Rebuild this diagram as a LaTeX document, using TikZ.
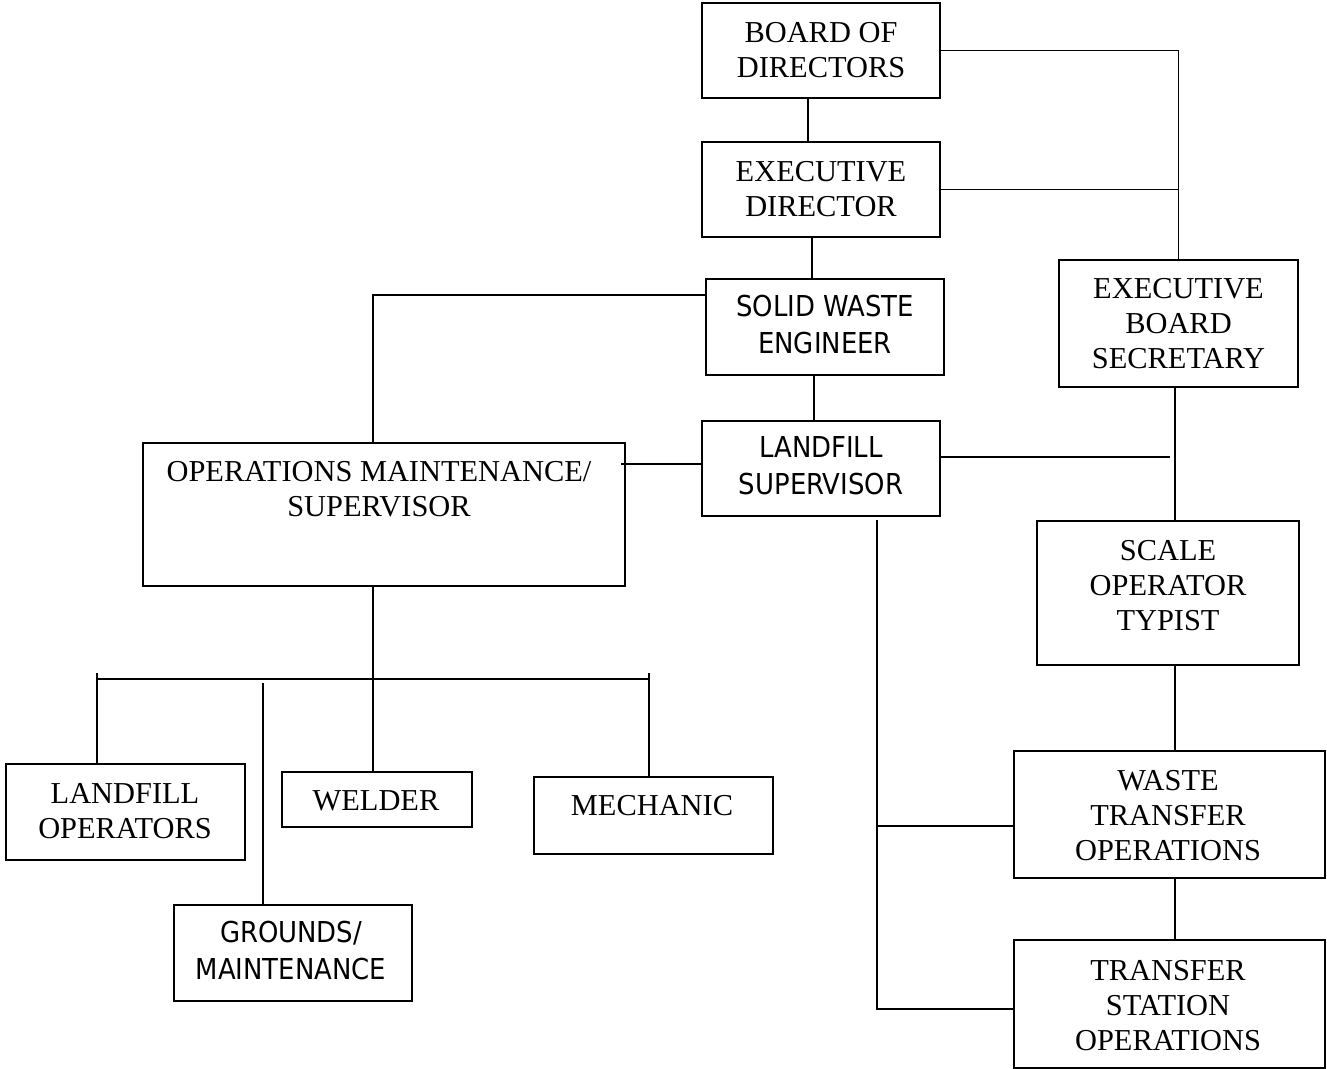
\documentclass[tikz,border=0pt]{standalone}
\usepackage{fontspec}
\setmainfont{Liberation Serif}
\newfontfamily\condsans{DejaVu Sans Condensed}
\begin{document}
\begin{tikzpicture}[x=0.75pt,y=-0.75pt,
  box/.style={draw,line width=1.4pt,inner sep=0pt,rectangle},
  serift/.style={align=center,inner sep=0pt,font=\fontsize{22.8}{26.25}\selectfont},
  sanst/.style={align=center,inner sep=0pt,font=\condsans\fontsize{21.6}{27.75}\selectfont},
  conn/.style={line width=1.4pt}]
\useasboundingbox[fill=white] (0,0) rectangle (1327,1069);

% boxes
\node[box,minimum width=238*0.75pt,minimum height=95*0.75pt] (board) at (821,50.5) {};
\node[box,minimum width=238*0.75pt,minimum height=95*0.75pt] (exec) at (821,189.5) {};
\node[box,minimum width=238*0.75pt,minimum height=96*0.75pt] (swe) at (825,327) {};
\node[box,minimum width=238*0.75pt,minimum height=95*0.75pt] (ls) at (821,468.5) {};
\node[box,minimum width=239*0.75pt,minimum height=127*0.75pt] (sec) at (1178.5,323.5) {};
\node[box,minimum width=482*0.75pt,minimum height=143*0.75pt] (ops) at (384,514.5) {};
\node[box,minimum width=262*0.75pt,minimum height=144*0.75pt] (scale) at (1168,593) {};
\node[box,minimum width=311*0.75pt,minimum height=127*0.75pt] (wto) at (1169.5,814.5) {};
\node[box,minimum width=311*0.75pt,minimum height=128*0.75pt] (tso) at (1169.5,1004) {};
\node[box,minimum width=239*0.75pt,minimum height=96*0.75pt] (lo) at (125.5,812) {};
\node[box,minimum width=190*0.75pt,minimum height=55*0.75pt] (weld) at (377,799.5) {};
\node[box,minimum width=239*0.75pt,minimum height=77*0.75pt] (mech) at (653.5,815.5) {};
\node[box,minimum width=238*0.75pt,minimum height=96*0.75pt] (gr) at (293,953) {};

% texts
\node[serift] (boardT) at (821,50.5) {BOARD OF\\DIRECTORS};
\node[serift] (execT) at (821,189) {EXECUTIVE\\DIRECTOR};
\node[sanst] (sweT) at (825,325) {SOLID WASTE\\ENGINEER};
\node[sanst] (lsT) at (821,466) {LANDFILL\\SUPERVISOR};
\node[serift] (secT) at (1178.5,323.5) {EXECUTIVE\\BOARD\\SECRETARY};
\node[serift] (opsT) at (379,489.5) {OPERATIONS MAINTENANCE/\\SUPERVISOR};
\node[serift] (scaleT) at (1168,586) {SCALE\\OPERATOR\\TYPIST};
\node[serift] (wtoT) at (1168,816) {WASTE\\TRANSFER\\OPERATIONS};
\node[serift] (tsoT) at (1168,1006) {TRANSFER\\STATION\\OPERATIONS};
\node[serift] (loT) at (125,811.5) {LANDFILL\\OPERATORS};
\node[serift] (weldT) at (376,801) {WELDER};
\node[serift] (mechT) at (652,806) {MECHANIC};
\node[sanst] (grT) at (291,951) {GROUNDS/\\MAINTENANCE};

% helper coordinates
\coordinate (bx) at (808,0);
\coordinate (ex) at (812,0);
\coordinate (sx) at (814,0);
\coordinate (rx) at (1175,0);
\coordinate (swl) at (373,295);
\coordinate (lsl) at (621,464);
\coordinate (lsr) at (1170,457);
\coordinate (lm) at (877,826);
\coordinate (lb) at (877,1009);
\coordinate (lt) at (877,520);
\coordinate (bar) at (373,679);
\coordinate (barL) at (97,679);
\coordinate (barR) at (649,679);
\coordinate (barLt) at (97,673);
\coordinate (barRt) at (649,673);
\coordinate (gx) at (263,683);

% connectors
\draw[conn] (board.south -| bx) -- (exec.north -| bx);
\draw[conn] (board.east) -| (sec.north);
\draw[conn] (exec.east) -- (exec.east -| sec.north);
\draw[conn] (exec.south -| ex) -- (swe.north -| ex);
\draw[conn] (swe.west |- swl) -- (swl) -- (swl |- ops.north);
\draw[conn] (swe.south -| sx) -- (ls.north -| sx);
\draw[conn] (ls.west |- lsl) -- (lsl);
\draw[conn] (ls.east |- lsr) -- (lsr);
\draw[conn] (sec.south -| rx) -- (scale.north -| rx);
\draw[conn] (scale.south -| rx) -- (wto.north -| rx);
\draw[conn] (wto.south -| rx) -- (tso.north -| rx);
\draw[conn] (lt) -- (lb) -- (lb -| tso.west);
\draw[conn] (lm) -- (lm -| wto.west);
\draw[conn] (ops.south -| bar) -- (bar);
\draw[conn] (barL) -- (barR);
\draw[conn] (barLt) -- (lo.north -| barL);
\draw[conn] (barRt) -- (mech.north -| barR);
\draw[conn] (bar) -- (weld.north -| bar);
\draw[conn] (gx) -- (gx |- gr.north);
\end{tikzpicture}
\end{document}
